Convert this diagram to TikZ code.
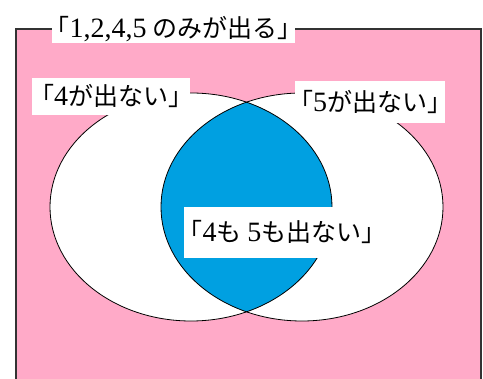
\documentclass[tikz,border=0pt]{standalone}
\usepackage{fontspec}
\setmainfont{Liberation Serif}
\newfontfamily\jp{Noto Sans CJK JP}
\definecolor{pinkbg}{RGB}{255,170,200}
\definecolor{bluefill}{RGB}{0,160,225}
\newcommand{\dg}[1]{{\fontsize{28}{28}\selectfont\rmfamily #1}}
\newcommand{\lbltext}[1]{\makebox[0pt][c]{#1}}
\begin{document}
\begin{tikzpicture}[x=1pt,y=-1pt,
  lbl/.style={fill=white,inner sep=0pt,font=\fontsize{25}{27}\selectfont\jp,anchor=center},
  venn/.style={draw=black,line width=0.8pt}]
\useasboundingbox (0,0) rectangle (483,379);
\clip (0,0) rectangle (483,379);
% universe
\fill[pinkbg] (16,29) rectangle (481,390);
\draw[line width=1.2pt,draw=black!80] (16,390) -- (16,29) -- (481,29) -- (481,390);
% ellipses
\fill[white] (191,207) ellipse [x radius=141, y radius=114];
\fill[white] (302,207) ellipse [x radius=141, y radius=114];
\begin{scope}
  \clip (191,207) ellipse [x radius=141, y radius=114];
  \fill[bluefill] (302,207) ellipse [x radius=141, y radius=114];
\end{scope}
\draw[venn] (191,207) ellipse [x radius=141, y radius=114];
\draw[venn] (302,207) ellipse [x radius=141, y radius=114];
% labels
\node[lbl,minimum width=243,minimum height=28] (title) at (173.5,29) {\lbltext{「\dg{1,2,4,5} のみが出る」}};
\node[lbl,minimum width=158,minimum height=37] (l4) at (111,96.5) {\lbltext{「\dg{4}が出ない」}};
\node[lbl,minimum width=150,minimum height=42] (l5) at (370,102) {\lbltext{「\dg{5}が出ない」}};
\node[lbl,minimum width=196,minimum height=51] (l45) at (282,232.5) {\lbltext{「\dg{4}も \dg{5}も出ない」}};
\end{tikzpicture}
\end{document}
